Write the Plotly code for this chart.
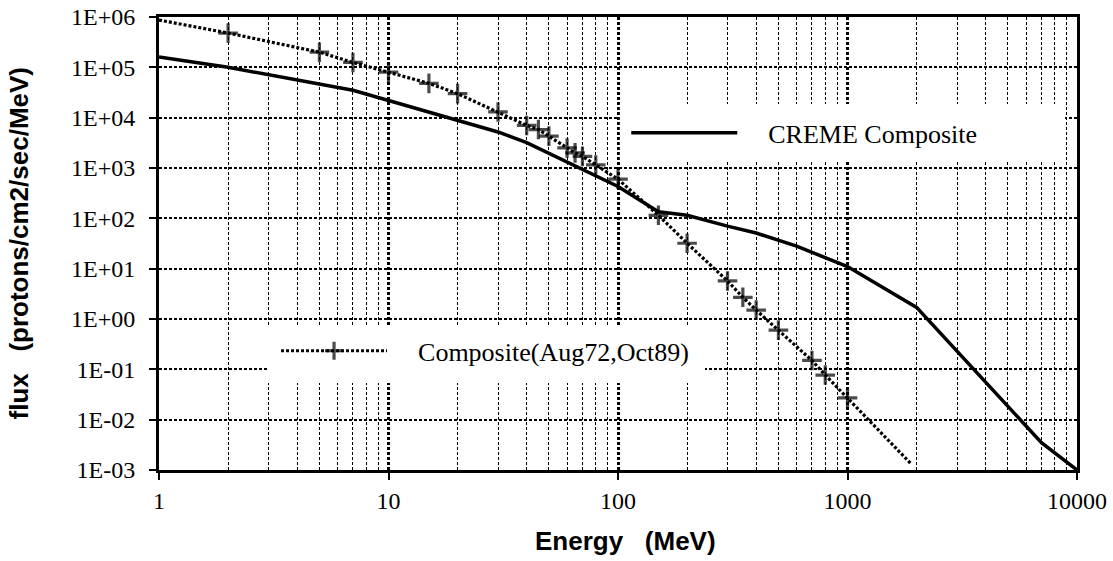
import plotly.graph_objects as go

# CREME Composite (solid)
creme_energy = [1, 2, 7, 10, 20, 30, 40, 60, 100, 150, 200, 300, 400, 600, 1000, 2000, 5500, 7000, 10000]
creme_flux = [1.6e5, 1.0e5, 3.5e4, 2.2e4, 9.0e3, 5.2e3, 3.2e3, 1.3e3, 4.3e2, 1.35e2, 1.15e2, 7.0e1, 5.1e1,
              2.8e1, 1.1e1, 1.7, 1.2e-2, 3.5e-3, 1.0e-3]

# Composite(Aug72,Oct89) (dotted with + markers)
comp_energy = [1, 2, 5, 7, 10, 15, 20, 30, 40, 45, 50, 60, 65, 70, 80, 100, 150, 200, 300, 350, 400, 500,
               700, 800, 1000, 1900]
comp_flux = [8.7e5, 4.8e5, 2.0e5, 1.25e5, 8.0e4, 4.8e4, 3.0e4, 1.3e4, 7.0e3, 5.8e3, 4.3e3, 2.5e3, 2.0e3,
             1.7e3, 1.15e3, 6.0e2, 1.15e2, 3.2e1, 5.7, 2.7, 1.5, 0.6, 0.15, 0.077, 0.027, 1.3e-3]
comp_marker_size = [0] + [14] * (len(comp_energy) - 2) + [0]

x_ticks = [1, 10, 100, 1000, 10000]
x_ticktext = ["1", "10", "100", "1000", "10000"]
y_ticks = [1e-3, 1e-2, 1e-1, 1e0, 1e1, 1e2, 1e3, 1e4, 1e5, 1e6]
y_ticktext = ["1E-03", "1E-02", "1E-01", "1E+00", "1E+01", "1E+02", "1E+03", "1E+04", "1E+05", "1E+06"]

serif = "Liberation Serif, Times New Roman, serif"
sans = "Liberation Sans, Arial, sans-serif"
nb = "\u00a0"

fig = go.Figure()

fig.add_trace(go.Scatter(
    x=creme_energy, y=creme_flux, mode="lines",
    name=nb * 4 + "CREME Composite",
    line=dict(color="black", width=3.5),
    legend="legend", showlegend=True,
))

fig.add_trace(go.Scatter(
    x=comp_energy, y=comp_flux, mode="lines+markers",
    name=nb * 4 + "Composite(Aug72,Oct89)",
    line=dict(color="black", width=3.2, dash="3px,2px"),
    marker=dict(symbol="cross-thin", size=comp_marker_size, color="black",
                line=dict(color="black", width=3.2)),
    legend="legend2", showlegend=True,
))

# white boxes of the legends (cover the grid)
fig.add_shape(type="rect", xref="paper", yref="paper", x0=0.502, x1=0.987, y0=0.680, y1=0.808,
              fillcolor="white", line=dict(width=0), layer="above")
fig.add_shape(type="rect", xref="paper", yref="paper", x0=0.1187, x1=0.5948, y0=0.192, y1=0.3157,
              fillcolor="white", line=dict(width=0), layer="above")

fig.update_layout(
    width=1113, height=561,
    margin=dict(l=159, r=36, t=17, b=91, autoexpand=False),
    plot_bgcolor="white", paper_bgcolor="white",
    font=dict(family=serif, color="black"),
    showlegend=True,
    legend=dict(x=0.509, y=0.744, xanchor="left", yanchor="middle", bgcolor="rgba(0,0,0,0)",
                font=dict(family=serif, size=26, color="black"), itemwidth=106, visible=True),
    legend2=dict(x=0.1275, y=0.263, xanchor="left", yanchor="middle", bgcolor="rgba(0,0,0,0)",
                 font=dict(family=serif, size=26, color="black"), itemwidth=106, visible=True),
)

fig.update_xaxes(
    type="log", range=[0, 4], automargin=False,
    tickvals=x_ticks, ticktext=x_ticktext,
    tickfont=dict(family=serif, size=24),
    ticks="outside", ticklen=7, tickwidth=2, tickcolor="black",
    showline=True, linewidth=3, linecolor="black", mirror=True,
    showgrid=True, gridcolor="black", gridwidth=2.5, griddash="3px,2px",
    minor=dict(dtick="D1", showgrid=True, gridcolor="black", gridwidth=1.3, griddash="3px,2px", ticks=""),
    zeroline=False,
)

fig.update_yaxes(
    type="log", range=[-3, 6], automargin=False,
    tickvals=y_ticks, ticktext=y_ticktext,
    tickfont=dict(family=serif, size=24),
    ticks="outside", ticklen=7, tickwidth=2, tickcolor="black", ticklabelstandoff=9,
    showline=True, linewidth=3, linecolor="black", mirror=True,
    showgrid=True, gridcolor="black", gridwidth=2, griddash="3px,2px",
    zeroline=False,
)

fig.add_annotation(text="Energy" + nb * 3 + "(MeV)", xref="paper", yref="paper",
                   x=(625 - 159) / 918, y=-(541 - 470) / 453, xanchor="center", yanchor="middle",
                   showarrow=False, font=dict(family=sans, size=26, color="black", weight="bold"))
fig.add_annotation(text="flux" + nb * 3 + "(protons/cm2/sec/MeV)", xref="paper", yref="paper",
                   x=-(159 - 18) / 918, y=0.5, xanchor="center", yanchor="middle",
                   textangle=-90, showarrow=False,
                   font=dict(family=sans, size=26, color="black", weight="bold"))

fig.write_html("out.html", config={"displayModeBar": False},
               post_script="document.body.style.margin='0';")
